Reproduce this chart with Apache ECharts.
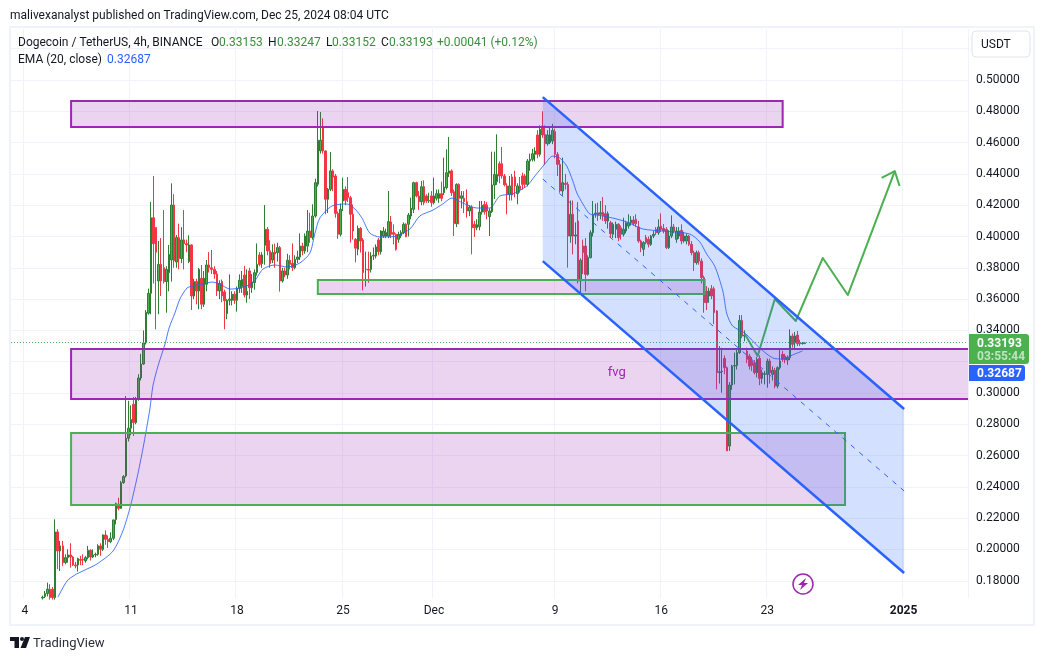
<!DOCTYPE html>
<html><head><meta charset="utf-8">
<style>html,body{margin:0;padding:0;background:#fff}#c{width:1044px;height:660px}</style>
<script src="https://cdn.jsdelivr.net/npm/echarts@6/dist/echarts.min.js"></script>
</head><body><div id="c"></div>
<script>
// ---- tick labels
const timeTickIndex = [5,47,89,131,167,215,257,299,353];
const timeTickLabel = ['4','11','18','25','Dec','9','16','23','2025'];
const priceGrid = [.18,.20,.22,.24,.26,.28,.30,.32,.34,.36,.38,.40,.42,.44,.46,.48,.50,.52];
const priceLabels = [.18,.20,.22,.24,.26,.28,.30,.34,.36,.38,.40,.42,.44,.46,.48,.50];
const barCount = 379;
const firstCandle = 12;
// ---- candles, 4h bars from index 12: [open, close, low, high]
const candles = [
[.1690,.1695,.1680,.1705],[.1700,.1718,.1690,.1735],[.1718,.1746,.1700,.1788],[.1746,.1693,.1680,.1778],[.1746,.1693,.1680,.1760],
[.1693,.2112,.1680,.2193],[.2112,.1991,.1874,.2129],[.1991,.2023,.1863,.2055],[.2023,.1916,.1895,.2055],[.1916,.1948,.1905,.1969],
[.1948,.1965,.1916,.2001],[.1965,.1952,.1884,.2040],[.1952,.1901,.1895,.1959],[.1901,.1895,.1880,.1920],[.1901,.1942,.1859,.1948],
[.1937,.1931,.1900,.1959],[.1937,.1933,.1900,.1969],[.1927,.1948,.1915,.1959],[.1948,.1995,.1937,.2023],[.1995,.1952,.1930,.2001],
[.1952,.1965,.1945,.2001],[.1965,.1969,.1950,.1980],[.1969,.2023,.1960,.2034],[.2023,.2001,.1960,.2040],[.2001,.2093,.1990,.2097],
[.2093,.2065,.2030,.2123],[.2065,.2050,.2010,.2090],[.2050,.2072,.2040,.2110],[.2072,.2189,.2060,.2190],[.2191,.2293,.2160,.2300],
[.2290,.2263,.2250,.2331],[.2263,.2427,.2260,.2438],[.2427,.2466,.2420,.2475],[.2470,.2711,.2460,.2981],[.2711,.2775,.2690,.2950],
[.2775,.2830,.2730,.2920],[.2928,.2811,.2725,.2975],[.2811,.2962,.2800,.2975],[.2962,.3096,.2950,.3120],[.3096,.3185,.3080,.3250],
[.3185,.3320,.3180,.3400],[.3320,.3516,.3310,.3530],[.3510,.3637,.3500,.3667],[.3637,.4120,.3503,.4221],[.4120,.3954,.3700,.4387],
[.4057,.3900,.3407,.4060],[.3716,.3822,.3503,.3971],[.3822,.3716,.3620,.3990],[.3801,.3712,.3700,.4169],[.3712,.3790,.3513,.3810],
[.3769,.3886,.3650,.3946],[.3850,.4201,.3712,.4340],[.4201,.3845,.3800,.4270],[.3837,.3993,.3800,.4010],[.3993,.3859,.3790,.4082],
[.3859,.3978,.3830,.4060],[.3978,.3954,.3790,.4169],[.3954,.3946,.3900,.3980],[.3840,.3946,.3830,.4008],[.3946,.3620,.3530,.3950],
[.3620,.3712,.3600,.3730],[.3712,.3652,.3567,.3730],[.3652,.3790,.3535,.3800],[.3733,.3567,.3535,.3818],[.3567,.3733,.3550,.3780],
[.3695,.3818,.3650,.3850],[.3818,.3800,.3770,.3900],[.3800,.3790,.3760,.3914],[.3790,.3760,.3730,.3810],[.3760,.3652,.3620,.3780],
[.3652,.3700,.3600,.3720],[.3712,.3620,.3580,.3725],[.3646,.3590,.3407,.3660],[.3507,.3592,.3471,.3600],[.3592,.3600,.3560,.3758],
[.3592,.3631,.3560,.3650],[.3631,.3592,.3570,.3650],[.3592,.3669,.3520,.3680],[.3669,.3720,.3640,.3758],[.3680,.3726,.3640,.3780],
[.3754,.3626,.3610,.3812],[.3626,.3650,.3577,.3790],[.3780,.3673,.3600,.3800],[.3673,.3710,.3640,.3760],[.3705,.3769,.3660,.3790],
[.3769,.3822,.3750,.3956],[.3882,.3822,.3810,.3900],[.3827,.3882,.3800,.3900],[.3944,.4046,.3820,.4201],[.4046,.3908,.3880,.4060],
[.3908,.3827,.3800,.3976],[.3850,.3897,.3830,.3950],[.3901,.3888,.3800,.3954],[.3897,.3929,.3840,.3960],[.3929,.3716,.3648,.3940],
[.3716,.3780,.3705,.3800],[.3780,.3754,.3740,.3800],[.3754,.3848,.3730,.3890],[.3848,.3822,.3790,.3880],[.3829,.3801,.3780,.3956],
[.3801,.3854,.3790,.3880],[.3854,.3869,.3830,.3910],[.3869,.3939,.3850,.4020],[.3939,.3908,.3880,.3960],[.3908,.4003,.3890,.4020],
[.3939,.4035,.3900,.4169],[.4035,.3993,.3960,.4152],[.3993,.4131,.3980,.4206],[.4131,.4344,.4120,.4370],[.4334,.4615,.4320,.4802],
[.4547,.4615,.4530,.4796],[.4696,.4547,.4530,.4755],[.4547,.4238,.4142,.4550],[.4238,.4302,.4150,.4310],[.4302,.4419,.4290,.4540],
[.4419,.4380,.4290,.4430],[.4387,.4148,.4120,.4400],[.4148,.4014,.3986,.4160],[.4014,.4174,.4000,.4210],
[.4227,.4301,.4163,.4376],[.4301,.4231,.4200,.4320],[.4280,.4248,.4220,.4380],[.4248,.4142,.3961,.4260],[.4142,.4035,.3980,.4205],
[.3982,.3925,.3835,.3990],[.3918,.4052,.3880,.4070],[.4052,.3971,.3897,.4060],[.3978,.3769,.3656,.3990],[.3790,.3790,.3680,.3903],
[.3790,.3785,.3705,.3903],[.3790,.3875,.3770,.3900],[.3875,.3880,.3850,.3930],[.3875,.3933,.3860,.3950],[.3978,.3903,.3880,.3990],
[.3903,.4035,.3885,.4040],[.4003,.4035,.3990,.4060],[.4003,.4025,.3990,.4050],[.4003,.4095,.3990,.4291],[.4093,.4014,.3990,.4131],
[.4025,.4014,.3950,.4078],[.4014,.3918,.3910,.4020],[.3982,.4014,.3960,.4030],[.4005,.4025,.3990,.4040],[.4025,.4078,.4015,.4090],
[.4078,.3999,.3995,.4085],[.4078,.4137,.4000,.4150],[.4131,.4180,.4110,.4248],[.4174,.4344,.4150,.4350],[.4344,.4259,.4250,.4350],
[.4259,.4222,.4170,.4290],[.4222,.4318,.4200,.4355],[.4318,.4216,.4200,.4359],[.4259,.4227,.4215,.4270],[.4227,.4230,.4215,.4280],
[.4259,.4216,.4190,.4290],[.4216,.4259,.4205,.4376],[.4244,.4274,.4230,.4300],[.4244,.4274,.4215,.4300],[.4274,.4244,.4225,.4350],
[.4280,.4316,.4265,.4504],[.4312,.4408,.4300,.4557],[.4404,.4419,.4380,.4636],[.4419,.4280,.4260,.4430],[.4286,.4082,.4003,.4300],
[.4082,.4333,.4060,.4340],[.4333,.4244,.4078,.4340],[.4244,.4260,.4180,.4290],[.4244,.4222,.4150,.4290],[.4222,.4163,.4120,.4301],
[.4163,.4188,.4130,.4200],[.4188,.4056,.3886,.4200],[.4078,.4056,.3997,.4100],[.4056,.4075,.4040,.4110],[.4063,.4156,.4040,.4227],
[.4156,.4200,.4140,.4227],[.4205,.4158,.4140,.4227],[.4201,.4163,.4110,.4220],[.4127,.4163,.4003,.4180],[.4159,.4329,.4150,.4542],
[.4329,.4397,.4240,.4542],[.4350,.4397,.4330,.4653],[.4465,.4387,.4340,.4480],[.4465,.4387,.4370,.4572],[.4387,.4330,.4320,.4400],
[.4323,.4269,.4142,.4340],[.4269,.4323,.4230,.4387],[.4380,.4265,.4230,.4400],[.4380,.4323,.4250,.4420],[.4274,.4323,.4206,.4340],
[.4323,.4300,.4280,.4380],[.4387,.4333,.4300,.4408],[.4387,.4333,.4310,.4400],[.4333,.4482,.4320,.4495],[.4482,.4493,.4420,.4530],
[.4493,.4529,.4480,.4560],[.4525,.4546,.4480,.4570],[.4649,.4525,.4500,.4680],[.4525,.4685,.4510,.4710],[.4706,.4649,.4630,.4800],
[.4653,.4593,.4461,.4710],[.4593,.4649,.4580,.4680],[.4600,.4649,.4590,.4700],[.4610,.4678,.4590,.4720],[.4670,.4525,.4500,.4690],
[.4525,.4461,.4387,.4540],[.4461,.4291,.4280,.4490],[.4291,.4344,.4260,.4504],[.4340,.4333,.4300,.4400],[.4333,.4003,.3801,.4350],
[.4003,.4142,.3960,.4230],[.4142,.4003,.3886,.4230],[.4003,.4010,.3950,.4090],[.4099,.3716,.3700,.4220],[.3716,.3848,.3640,.3860],
[.3940,.3897,.3760,.3980],[.3939,.3758,.3650,.3990],[.3758,.3865,.3750,.3880],[.3865,.4024,.3860,.4040],[.4024,.4142,.4000,.4227],
[.4142,.4150,.4120,.4210],[.4152,.4137,.4100,.4216],[.4142,.4152,.4110,.4227],[.4155,.4131,.4100,.4252],[.4146,.4099,.4080,.4200],
[.4099,.4146,.4050,.4160],[.4088,.4018,.3990,.4100],[.4014,.4078,.3990,.4090],[.4046,.4078,.3990,.4095],[.4078,.3993,.3970,.4085],
[.4056,.4014,.3980,.4070],[.4014,.4046,.4000,.4120],[.4035,.4088,.4020,.4100],[.4067,.4088,.4050,.4142],[.4088,.4105,.4070,.4130],
[.4105,.4082,.4070,.4130],[.4110,.4082,.4060,.4142],[.4061,.3971,.3960,.4100],[.3971,.3929,.3900,.3980],[.3918,.3961,.3875,.3970],
[.3993,.3961,.3950,.4010],[.3982,.3950,.3930,.4000],[.3950,.4003,.3940,.4010],[.4003,.4014,.3990,.4035],[.4046,.4024,.4010,.4060],
[.4024,.4061,.4010,.4110],[.4067,.4046,.4030,.4148],[.4052,.4035,.4020,.4080],[.4046,.3929,.3920,.4060],[.3929,.4003,.3920,.4040],
[.4003,.4061,.3990,.4135],[.4061,.4035,.4020,.4080],[.3982,.4035,.3960,.4060],[.4003,.4035,.3985,.4060],[.4039,.3971,.3950,.4078],
[.3971,.4003,.3960,.4030],[.3971,.4003,.3950,.4020],[.4003,.3950,.3940,.4010],[.3950,.3897,.3880,.3970],[.3897,.3833,.3780,.3910],
[.3833,.3897,.3820,.3910],[.3897,.3843,.3820,.3910],[.3843,.3737,.3700,.3860],[.3737,.3577,.3513,.3750],[.3651,.3577,.3530,.3683],
[.3620,.3651,.3577,.3673],[.3666,.3620,.3600,.3690],[.3666,.3513,.3440,.3680],[.3524,.3130,.3023,.3530],[.3130,.3136,.3060,.3300],
[.3136,.3140,.3002,.3289],[.3221,.3162,.3120,.3240],[.3162,.2630,.2630,.3170],[.2661,.3051,.2630,.3070],[.3051,.3172,.3020,.3180],
[.3172,.3176,.3055,.3258],[.3176,.3258,.3150,.3280],[.3258,.3464,.3250,.3498],[.3464,.3364,.3350,.3498],[.3364,.3370,.3330,.3400],
[.3268,.3215,.3190,.3290],[.3236,.3172,.3150,.3250],[.3204,.3176,.3140,.3230],[.3193,.3130,.3119,.3210],[.3130,.3215,.3100,.3230],
[.3221,.3093,.3050,.3240],[.3093,.3130,.3060,.3150],[.3119,.3123,.3055,.3140],[.3119,.3204,.3034,.3220],[.3204,.3130,.3060,.3220],
[.3119,.3145,.3080,.3170],[.3145,.3044,.3030,.3160],[.3044,.3162,.3030,.3170],[.3162,.3204,.3150,.3279],[.3247,.3215,.3200,.3270],
[.3236,.3211,.3190,.3250],[.3211,.3226,.3180,.3240],[.3226,.3364,.3210,.3407],[.3364,.3311,.3290,.3380],[.3321,.3364,.3280,.3390],
[.3370,.3315,.3300,.3396],[.3321,.3315,.3300,.3340],[.3315,.3319,.3310,.3325],[.33153,.33193,.33152,.33247]
];
// ---- EMA(20): [bar index, price]
const ema = [
[18.1,.1696],[21.7,.1799],[24.8,.1837],[28,.1863],[33.5,.1907],[39.9,.1990],[43.8,.2118],[46.6,.2265],[49.4,.2457],[51.8,.2648],
[54.5,.2898],[55.7,.3045],[57.7,.3172],[60.5,.3313],[62.1,.3415],[64.4,.3511],[66.4,.3601],[69.2,.3671],[71.6,.3684],[75.5,.3696],[79.1,.3709],
[82.2,.3696],[86.2,.3664],[90.2,.3671],[95.3,.3703],[99.3,.3792],[104,.3818],[108.8,.3805],[113.9,.3831],[117.9,.3895],[119.8,.4016],
[121.8,.4118],[126.6,.4195],[132.5,.4208],[135.7,.4176],[138.5,.4118],[141.6,.4022],[145.6,.3997],[152.3,.4003],[157.5,.4048],[161.4,.4131],
[166.6,.4169],[170.5,.4208],[174.1,.4246],[178.4,.4214],[184,.4182],[189.1,.4182],[193.1,.4259],[198.2,.4272],[203.8,.4323],[207,.4387],
[210.9,.4463],[214,.4514],[216.8,.4502],[219.6,.4450],[222,.4355],[223.6,.4278],[226,.4208],[228.7,.4144],[231.9,.4137],[237.8,.4118],
[243.4,.4093],[249.7,.4048],[257.6,.4035],[268.3,.4016],[272.3,.3965],[275,.3888],[278.2,.3811],[281.4,.3652],[283,.3505],[285.3,.3428],
[290.1,.3383],[296,.3287],[301.2,.3224],[305.1,.3217],[309,.3243],[313,.3269]
];
// ---- analyst drawings in data coordinates [bar index, price]
const topZone = [[23.3,.4866],[305.1,.4700]];
const midZone = [[121,.3722],[274.2,.3633]];
const fvgZone = [[23.3,.3281],[392,.2962]];
const lowZone = [[23.3,.2744],[329.8,.2284]];
const chanUpper = [[210.1,.4891],[353.2,.2898]];
const chanMiddle = [[210.1,.4367],[353.2,.2374]];
const chanLower = [[210.1,.3843],[353.2,.1850]];
const forecastPath = [[290.1,.3377],[295.2,.3236],[302,.3601],[310.3,.3460],[321,.3863],[330.9,.3626],[349.5,.4418]];
const forecastHead = [[344.3,.4374],[349.5,.4418],[351.4,.4323]];
const lastClose = .33193, lastEma = .32687;
const fvgLabelAt = [239.4,.3128];

const FONT = 'Roboto, sans-serif';
const INK = '#131722', UP = '#4caf50', UPD = '#388e3c', DOWN = '#f23645', BLUE = '#2962ff', PURPLE = '#9c27b0';

const categories = [];
for (let i = 0; i < barCount; i++) {
  const k = timeTickIndex.indexOf(i);
  categories.push(k >= 0 ? timeTickLabel[k] : 'b' + i);
}
const isTick = i => timeTickIndex.indexOf(i) >= 0;

function renderDrawings(params, api) {
  const P = p => api.coord(p);
  const zone = (z, stroke) => {
    const a = P(z[0]), b = P(z[1]);
    return {type:'rect', shape:{x:a[0], y:a[1], width:b[0]-a[0], height:b[1]-a[1]},
      style:{fill:'rgba(156,39,176,0.2)', stroke, lineWidth:2}};
  };
  const poly = (pts, stroke, lineWidth, lineDash) => ({type:'polyline', shape:{points:pts.map(P)},
    style:{fill:null, stroke, lineWidth, lineDash, lineJoin:'round'}});
  const fvgPt = P(fvgLabelAt);
  const lastY = Math.round(P([0,lastClose])[1]) - 0.5;
  return {type:'group', children:[
    {type:'line', shape:{x1:P([-0.5,lastClose])[0], y1:lastY, x2:P([392,lastClose])[0], y2:lastY},
      style:{stroke:UP, lineWidth:1, lineDash:[1,2]}},
    poly(forecastPath, UP, 2),
    poly(forecastHead, UP, 2),
    zone(topZone, PURPLE),
    zone(midZone, UP),
    zone(fvgZone, PURPLE),
    zone(lowZone, UP),
    {type:'polygon', shape:{points:[chanUpper[0],chanUpper[1],chanLower[1],chanLower[0]].map(P)},
      style:{fill:'rgba(41,98,255,0.2)', stroke:null}},
    poly(chanUpper, BLUE, 2.5),
    poly(chanLower, BLUE, 2.5),
    poly(chanMiddle, BLUE, 1, [5,6]),
    {type:'text', style:{x:fvgPt[0], y:fvgPt[1], text:'fvg', fill:PURPLE, font:'13px '+FONT, align:'center', verticalAlign:'middle'}}
  ]};
}

const T = (x,y,text,fill,extra) => ({type:'text', silent:true, z:50,
  style:Object.assign({x,y,text,fill:fill||INK,font:'12px '+FONT,verticalAlign:'middle'},extra||{})});
const R = (x,y,w,h,fill,extra) => ({type:'rect', silent:true, z:49,
  shape:Object.assign({x,y,width:w,height:h},extra&&extra.shape||{}),
  style:Object.assign({fill},extra&&extra.style||{})});

const graphics = [
  R(10,27,1024,598,'none',{style:{stroke:'#f0f3fa',lineWidth:2}}),
  T(10,16,'malivexanalyst published on TradingView.com, Dec 25, 2024 08:04 UTC'),
  T(18,43,'Dogecoin / TetherUS, 4h, BINANCE'),
  T(211,43,'O'), T(219,43,'0.33153',UPD),
  T(268,43,'H'), T(277,43,'0.33247',UPD),
  T(326,43,'L'), T(332,43,'0.33152',UPD),
  T(381,43,'C'), T(389,43,'0.33193',UPD),
  T(437,43,'+0.00041 (+0.12%)',UPD),
  T(18,60,'EMA (20, close)'), T(107,60,'0.32687',BLUE),
  R(972,31,58,26,'#fff',{shape:{r:4},style:{stroke:'#e0e3eb',lineWidth:1}}),
  T(981,45,'USDT'),
  R(969,334,60,30,UP,{shape:{r:[0,3,3,0]}}),
  T(977,344,'0.33193','#fff',{font:'bold 12px '+FONT}),
  T(977,357,'03:55:44','rgba(255,255,255,0.65)',{font:'bold 12px '+FONT}),
  R(969,365,56,16,BLUE,{shape:{r:[0,3,3,0]}}),
  T(977,374,'0.32687','#fff',{font:'bold 12px '+FONT}),
  // lightning badge
  {type:'circle', silent:true, z:49, shape:{cx:803,cy:584,r:10}, style:{fill:'#fff',stroke:PURPLE,lineWidth:1.5}},
  {type:'polygon', silent:true, z:50, shape:{points:[[806,578],[798,585],[802,585],[800,590],[808,583],[804,583]]}, style:{fill:PURPLE}},
  // TradingView wordmark
  R(10,637,9,4,INK), R(14.5,637,4.5,11,INK),
  {type:'circle', silent:true, z:50, shape:{cx:22,cy:639,r:2}, style:{fill:INK}},
  {type:'polygon', silent:true, z:50, shape:{points:[[25,637],[30,637],[26,648],[20.5,648]]}, style:{fill:INK}},
  T(33,644,'TradingView','#2a2e39',{font:'13px '+FONT})
];

const chart = echarts.init(document.getElementById('c'), null, {renderer:'canvas'});
chart.setOption({
  animation:false,
  backgroundColor:'#fff',
  textStyle:{fontFamily:FONT},
  grid:{left:11, right:76, top:29, bottom:62, containLabel:false},
  xAxis:[
    {type:'category', data:categories, boundaryGap:true,
     axisLine:{show:false}, axisTick:{show:false},
     axisLabel:{interval:(i)=>isTick(i), color:INK, fontSize:12, fontFamily:FONT, margin:7,
       formatter:v=>(v==='2025')?'{b|'+v+'}':v,
       rich:{b:{fontWeight:'bold',fontSize:12,fontFamily:FONT,color:INK}}},
     splitLine:{show:true, interval:(i)=>isTick(i), lineStyle:{color:'#f0f3fa',width:1}}},
    {type:'value', min:-0.5, max:barCount-0.5, show:false, splitLine:{show:false}}
  ],
  yAxis:{type:'value', position:'right', min:.169, max:.5326, scale:true,
    axisLine:{show:false},
    axisTick:{show:false, customValues:priceGrid},
    axisLabel:{customValues:priceLabels, color:INK, fontSize:12, fontFamily:FONT, margin:8,
      formatter:v=>v.toFixed(5)},
    splitLine:{show:true, lineStyle:{color:'#f0f3fa',width:1}}},
  series:[
    {type:'candlestick', xAxisIndex:0, yAxisIndex:0, z:2, barWidth:2, clip:true,
     encode:{x:0,y:[1,2,3,4]},
     data:candles.map((r,k)=>[k+firstCandle,r[0],r[1],r[2],r[3]]),
     itemStyle:{color:UP,color0:DOWN,borderColor:'#2e7d32',borderColor0:DOWN,borderWidth:1}},
    {type:'line', xAxisIndex:1, yAxisIndex:0, z:3, data:ema, showSymbol:false, smooth:0.25, clip:true,
     lineStyle:{color:BLUE,width:1,opacity:0.85}},
    {type:'custom', xAxisIndex:1, yAxisIndex:0, z:4, clip:true, silent:true,
     data:[[0,lastEma]], renderItem:renderDrawings}
  ],
  graphic:{elements:graphics}
});
</script></body></html>
